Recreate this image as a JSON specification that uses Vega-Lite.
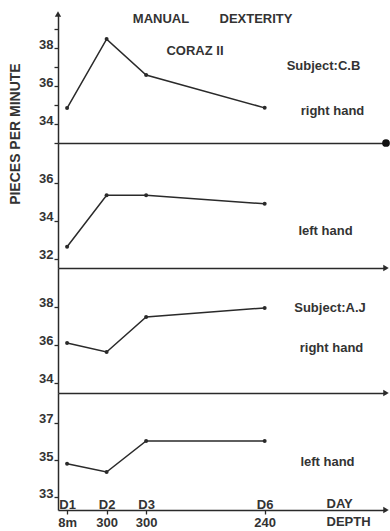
{
  "$schema": "https://vega.github.io/schema/vega-lite/v6.json",
  "background": "white",
  "padding": {"left": 8, "top": 11, "right": 2, "bottom": 2},
  "bounds": "flush",
  "spacing": 0,
  "config": {
    "view": {"stroke": null},
    "axis": {
      "domainColor": "#2a2a2a", "domainWidth": 1.5, "tickColor": "#2a2a2a", "tickWidth": 1.3,
      "labelColor": "#333", "labelFont": "Liberation Sans", "labelFontWeight": "bold", "labelFontSize": 13,
      "labelFlush": false,
      "grid": false, "titleFont": "Liberation Sans", "titleFontWeight": "bold", "titleFontSize": 13, "titleColor": "#333"
    },
    "text": {"font": "Liberation Sans", "fontWeight": "bold", "fontSize": 13, "color": "#333"}
  },
  "datasets": {
    "main": [
      {"subject": "C.B", "hand": "right", "day": 1, "pieces": 34.84},
      {"subject": "C.B", "hand": "right", "day": 2, "pieces": 38.47},
      {"subject": "C.B", "hand": "right", "day": 3, "pieces": 36.58},
      {"subject": "C.B", "hand": "right", "day": 6, "pieces": 34.85},
      {"subject": "C.B", "hand": "left", "day": 1, "pieces": 32.62},
      {"subject": "C.B", "hand": "left", "day": 2, "pieces": 35.33},
      {"subject": "C.B", "hand": "left", "day": 3, "pieces": 35.33},
      {"subject": "C.B", "hand": "left", "day": 6, "pieces": 34.88},
      {"subject": "A.J", "hand": "right", "day": 1, "pieces": 36.1},
      {"subject": "A.J", "hand": "right", "day": 2, "pieces": 35.63},
      {"subject": "A.J", "hand": "right", "day": 3, "pieces": 37.47},
      {"subject": "A.J", "hand": "right", "day": 6, "pieces": 37.95},
      {"subject": "A.J", "hand": "left", "day": 1, "pieces": 34.8},
      {"subject": "A.J", "hand": "left", "day": 2, "pieces": 34.35},
      {"subject": "A.J", "hand": "left", "day": 3, "pieces": 36.03},
      {"subject": "A.J", "hand": "left", "day": 6, "pieces": 36.03}
    ]
  },
  "vconcat": [
    {
      "width": 328, "height": 129,
      "resolve": {"axis": {"x": "independent", "y": "independent"}},
      "layer": [
        {
          "data": {"name": "main"},
          "transform": [{"filter": "datum.subject == 'C.B' && datum.hand == 'right'"}],
          "mark": {"type": "line", "color": "#2a2a2a", "strokeWidth": 1.5, "point": {"filled": true, "size": 16, "color": "#2a2a2a"}},
          "encoding": {
            "x": {"field": "day", "type": "quantitative", "scale": {"domain": [0.77, 9.07], "nice": false, "zero": false}, "axis": {"orient": "bottom", "ticks": false, "labels": false, "title": null}},
            "y": {"field": "pieces", "type": "quantitative", "scale": {"domain": [33, 39.79], "nice": false, "zero": false},
              "axis": {"orient": "left", "values": [33, 34, 35, 36, 37, 38, 39], "labelExpr": "datum.value % 2 == 0 ? datum.label : ''", "labelOverlap": false, "tickSize": 4, "labelPadding": 1, "labelBaseline": "alphabetic", "title": null}}
          }
        },
        {"data": {"values": [{}]}, "mark": {"type": "text", "text": "PIECES  PER  MINUTE", "angle": 270, "fontSize": 14, "baseline": "middle", "align": "center"}, "encoding": {"x": {"datum": -0.293, "axis": null}, "y": {"datum": 33.47, "axis": null}}},
        {"data": {"values": [{}]}, "mark": {"type": "point", "shape": "triangle-up", "filled": true, "size": 40, "color": "#2a2a2a", "opacity": 1}, "encoding": {"x": {"datum": 0.77, "axis": null}, "y": {"datum": 39.79, "axis": null}}},
        {"data": {"values": [{}]}, "mark": {"type": "point", "shape": "circle", "filled": true, "size": 60, "color": "#111", "opacity": 1}, "encoding": {"x": {"datum": 9.07, "axis": null}, "y": {"datum": 33, "axis": null}}},
        {"data": {"values": [{}]}, "mark": {"type": "text", "text": "MANUAL", "baseline": "middle", "align": "center"}, "encoding": {"x": {"datum": 3.376, "axis": null}, "y": {"datum": 39.54, "axis": null}}},
        {"data": {"values": [{}]}, "mark": {"type": "text", "text": "DEXTERITY", "baseline": "middle", "align": "center"}, "encoding": {"x": {"datum": 5.78, "axis": null}, "y": {"datum": 39.54, "axis": null}}},
        {"data": {"values": [{}]}, "mark": {"type": "text", "text": "CORAZ  II", "baseline": "middle", "align": "center"}, "encoding": {"x": {"datum": 4.237, "axis": null}, "y": {"datum": 37.85, "axis": null}}},
        {"data": {"values": [{}]}, "mark": {"type": "text", "text": "Subject:C.B", "baseline": "middle", "align": "center"}, "encoding": {"x": {"datum": 7.488, "axis": null}, "y": {"datum": 37.06, "axis": null}}},
        {"data": {"values": [{}]}, "mark": {"type": "text", "text": "right hand", "baseline": "middle", "align": "center"}, "encoding": {"x": {"datum": 7.716, "axis": null}, "y": {"datum": 34.69, "axis": null}}}
      ]
    },
    {
      "width": 328, "height": 125,
      "layer": [
        {
          "data": {"name": "main"},
          "transform": [{"filter": "datum.subject == 'C.B' && datum.hand == 'left'"}],
          "mark": {"type": "line", "color": "#2a2a2a", "strokeWidth": 1.5, "point": {"filled": true, "size": 16, "color": "#2a2a2a"}},
          "encoding": {
            "x": {"field": "day", "type": "quantitative", "scale": {"domain": [0.77, 9.07], "nice": false, "zero": false}, "axis": {"ticks": false, "labels": false, "title": null}},
            "y": {"field": "pieces", "type": "quantitative", "scale": {"domain": [31.5, 38.08], "nice": false, "zero": false},
              "axis": {"values": [32, 33, 34, 35, 36, 37], "labelExpr": "datum.value % 2 == 0 ? datum.label : ''", "labelOverlap": false, "tickSize": 4, "labelPadding": 1, "labelBaseline": "alphabetic", "title": null}}
          }
        },
        {"data": {"values": [{}]}, "mark": {"type": "point", "shape": "triangle-right", "filled": true, "size": 40, "color": "#2a2a2a", "opacity": 1}, "encoding": {"x": {"datum": 9.07}, "y": {"datum": 31.5}}},
        {"data": {"values": [{}]}, "mark": {"type": "text", "text": "left hand", "baseline": "middle", "align": "center"}, "encoding": {"x": {"datum": 7.539}, "y": {"datum": 33.45}}}
      ]
    },
    {
      "width": 328, "height": 125,
      "layer": [
        {
          "data": {"name": "main"},
          "transform": [{"filter": "datum.subject == 'A.J' && datum.hand == 'right'"}],
          "mark": {"type": "line", "color": "#2a2a2a", "strokeWidth": 1.5, "point": {"filled": true, "size": 16, "color": "#2a2a2a"}},
          "encoding": {
            "x": {"field": "day", "type": "quantitative", "scale": {"domain": [0.77, 9.07], "nice": false, "zero": false}, "axis": {"ticks": false, "labels": false, "title": null}},
            "y": {"field": "pieces", "type": "quantitative", "scale": {"domain": [33.47, 40.05], "nice": false, "zero": false},
              "axis": {"values": [34, 35, 36, 37, 38, 39], "labelExpr": "datum.value % 2 == 0 ? datum.label : ''", "labelOverlap": false, "tickSize": 4, "labelPadding": 1, "labelBaseline": "alphabetic", "title": null}}
          }
        },
        {"data": {"values": [{}]}, "mark": {"type": "point", "shape": "triangle-right", "filled": true, "size": 40, "color": "#2a2a2a", "opacity": 1}, "encoding": {"x": {"datum": 9.07}, "y": {"datum": 33.47}}},
        {"data": {"values": [{}]}, "mark": {"type": "text", "text": "Subject:A.J", "baseline": "middle", "align": "center"}, "encoding": {"x": {"datum": 7.653}, "y": {"datum": 37.94}}},
        {"data": {"values": [{}]}, "mark": {"type": "text", "text": "right hand", "baseline": "middle", "align": "center"}, "encoding": {"x": {"datum": 7.691}, "y": {"datum": 35.84}}}
      ]
    },
    {
      "width": 328, "height": 117,
      "layer": [
        {
          "data": {"name": "main"},
          "transform": [{"filter": "datum.subject == 'A.J' && datum.hand == 'left'"}],
          "mark": {"type": "line", "color": "#2a2a2a", "strokeWidth": 1.5, "point": {"filled": true, "size": 16, "color": "#2a2a2a"}},
          "encoding": {
            "x": {"field": "day", "type": "quantitative", "scale": {"domain": [0.77, 9.07], "nice": false, "zero": false},
              "axis": {"values": [1, 2, 3, 6], "labelExpr": "datum.value == 1 ? ['D1', '8m'] : datum.value == 2 ? ['D2', '300'] : datum.value == 3 ? ['D3', '300'] : ['D6', '240']",
                "labelLineHeight": 18, "tickSize": 4, "labelPadding": -16, "labelOverlap": false,
                "title": ["DAY", "DEPTH"], "titleX": 268, "titleY": -3, "titleAlign": "left", "titleBaseline": "alphabetic", "titleLineHeight": 18, "titleFontWeight": "bold"}},
            "y": {"field": "pieces", "type": "quantitative", "scale": {"domain": [32.3, 38.62], "nice": false, "zero": false},
              "axis": {"values": [33, 34, 35, 36, 37, 38], "labelExpr": "datum.value % 2 == 1 ? datum.label : ''", "labelOverlap": false, "tickSize": 4, "labelPadding": 1, "labelBaseline": "alphabetic", "title": null}}
          }
        },
        {"data": {"values": [{}]}, "mark": {"type": "point", "shape": "triangle-right", "filled": true, "size": 40, "color": "#2a2a2a", "opacity": 1}, "encoding": {"x": {"datum": 9.07}, "y": {"datum": 32.3}}},
        {"data": {"values": [{}]}, "mark": {"type": "text", "text": "left hand", "baseline": "middle", "align": "center"}, "encoding": {"x": {"datum": 7.589}, "y": {"datum": 34.89}}}
      ]
    }
  ]
}
